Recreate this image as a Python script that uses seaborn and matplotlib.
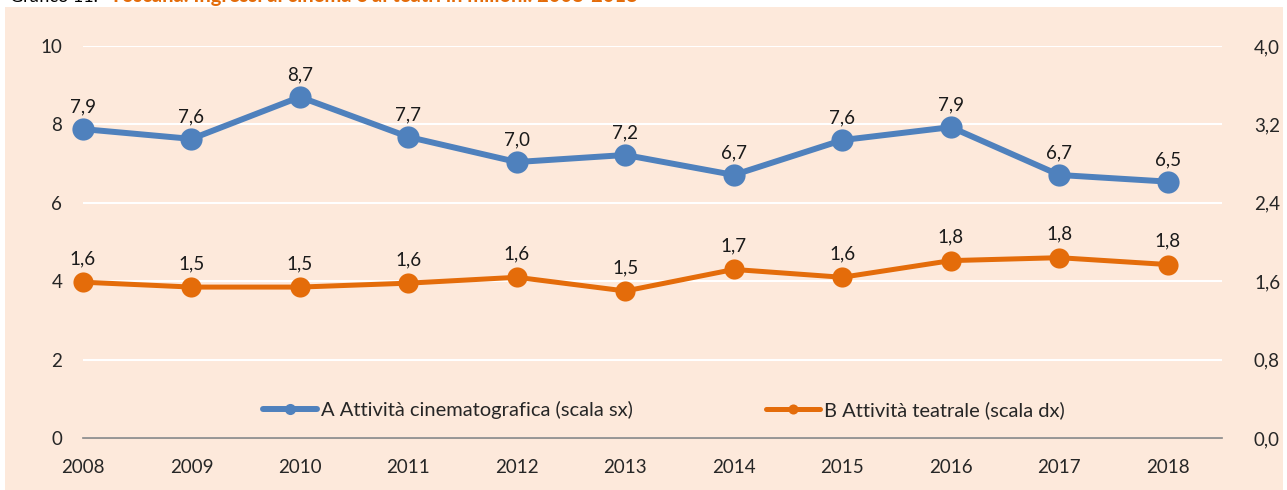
import matplotlib
matplotlib.use("Agg")
import matplotlib.pyplot as plt
import seaborn as sns
from matplotlib.patches import Rectangle

# ---------------------------------------------------
# Data (milioni di ingressi)
# ---------------------------------------------------
years = [2008, 2009, 2010, 2011, 2012, 2013, 2014, 2015, 2016, 2017, 2018]
cinema = [7.88, 7.63, 8.70, 7.68, 7.04, 7.22, 6.71, 7.60, 7.93, 6.71, 6.54]
teatro = [1.59, 1.54, 1.54, 1.58, 1.64, 1.50, 1.72, 1.64, 1.81, 1.84, 1.77]

left_ticks = [0, 2, 4, 6, 8, 10]
right_ticks = [0.0, 0.8, 1.6, 2.4, 3.2, 4.0]

label_cinema = "A Attività cinematografica (scala sx)"
label_teatro = "B Attività teatrale (scala dx)"
title_prefix = "Grafico 11."
title_main = "Toscana. Ingressi al cinema e ai teatri in milioni. 2008-2018"

BLUE = "#4F81BD"
ORANGE = "#E46C0A"
PANEL = "#FDE9DB"
AXIS_GRAY = "#868686"
FS = 13.5

sns.set_style("white")
plt.rcParams["font.family"] = ["Lato", "DejaVu Sans"]


def fmt(v, dec=1):
    return f"{v:.{dec}f}".replace(".", ",")


fig = plt.figure(figsize=(12.87, 4.90), dpi=100)

# peach background panel
fig.patches.append(
    Rectangle((5 / 1287, 0), 1278 / 1287, 483 / 490,
              transform=fig.transFigure, facecolor=PANEL,
              edgecolor="none", zorder=-10)
)

# title, partly cut by the top edge (as in the source)
fig.text(10 / 1287, 1 - 2 / 490, title_prefix, fontsize=13,
         color="black", va="baseline", ha="left")
fig.text(110 / 1287, 1 - 2 / 490, title_main, fontsize=14.5,
         color=ORANGE, fontweight="bold", va="baseline", ha="left")

ax = fig.add_axes([83 / 1287, 52 / 490, (1222 - 83) / 1287, 392 / 490])
ax.set_facecolor("none")
ax2 = ax.twinx()
ax2.set_facecolor("none")

# ---------------------------------------------------
# Lines
# ---------------------------------------------------
sns.lineplot(
    x=years, y=cinema, ax=ax, color=BLUE, linewidth=4.3,
    marker="o", markersize=16, markeredgewidth=0,
    label=label_cinema, clip_on=False, zorder=3
)
sns.lineplot(
    x=years, y=teatro, ax=ax2, color=ORANGE, linewidth=3.6,
    marker="o", markersize=14.5, markeredgewidth=0,
    label=label_teatro, clip_on=False, zorder=3
)

for x, v in zip(years, cinema):
    ax.annotate(fmt(v), (x, v), xytext=(0, 16), textcoords="offset points",
                ha="center", va="center", fontsize=FS, color="#1a1a1a")
for x, v in zip(years, teatro):
    ax2.annotate(fmt(v), (x, v), xytext=(0, 17), textcoords="offset points",
                 ha="center", va="center", fontsize=FS, color="#1a1a1a")

# ---------------------------------------------------
# Axes styling
# ---------------------------------------------------
ax.set_xlim(2008, 2018.5)
ax.set_ylim(0, 10)
ax2.set_ylim(0, 4)

ax.set_xticks(years)
ax.set_xticklabels([str(y) for y in years], fontsize=FS)
ax.set_yticks(left_ticks)
ax.set_yticklabels([str(t) for t in left_ticks], fontsize=FS)
ax2.set_yticks(right_ticks)
ax2.set_yticklabels([fmt(t) for t in right_ticks], fontsize=FS)

ax.grid(axis="y", color="white", linewidth=1.5)
ax.grid(axis="x", visible=False)
ax2.grid(False)

for a in (ax, ax2):
    for s in ("top", "left", "right", "bottom"):
        a.spines[s].set_visible(False)
ax.spines["bottom"].set_visible(True)
ax.spines["bottom"].set_color(AXIS_GRAY)
ax.spines["bottom"].set_linewidth(1.2)

ax.tick_params(axis="x", direction="inout", length=8, width=1,
               color=AXIS_GRAY, pad=11)
ax.tick_params(axis="y", length=0, pad=15)
ax2.tick_params(axis="y", length=0, pad=23)

ax.set_xlabel("")
ax.set_ylabel("")
ax2.set_ylabel("")

# ---------------------------------------------------
# Legend
# ---------------------------------------------------
h1, l1 = ax.get_legend_handles_labels()
h2, l2 = ax2.get_legend_handles_labels()
ax.get_legend().remove()
ax2.get_legend().remove()
ax2.legend(
    h1 + h2, l1 + l2, loc="center", bbox_to_anchor=(0.51, 0.071),
    ncol=2, frameon=False, fontsize=14.5, handlelength=2.7,
    columnspacing=6.6, markerscale=0.5, handletextpad=0.2
)

fig.savefig("out.png", dpi=100)
